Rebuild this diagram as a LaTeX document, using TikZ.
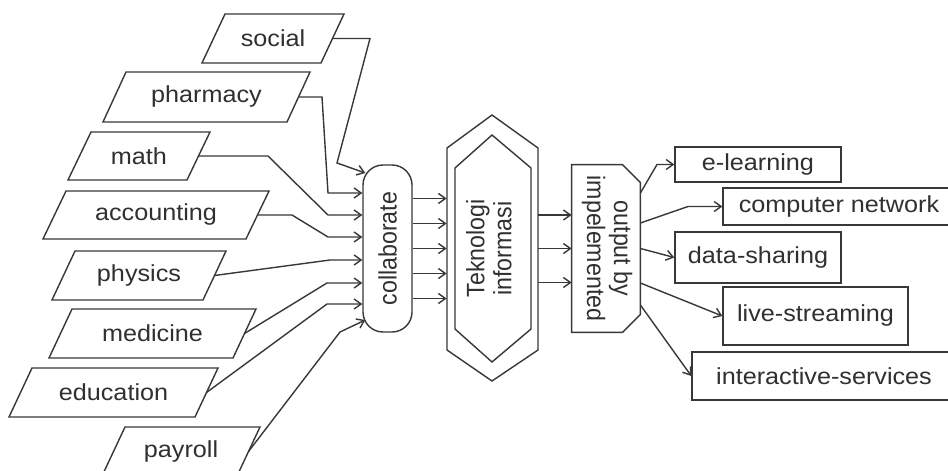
\documentclass[tikz,border=0pt]{standalone}
\usepackage{fontspec}
\setmainfont{Liberation Sans}
\usepackage{graphicx}
\usetikzlibrary{arrows.meta,calc}
\definecolor{ink}{HTML}{303030}
\definecolor{edge}{HTML}{383838}
% slightly flattened text
\newcommand\vsq[1]{\scalebox{1}[0.92]{#1}}
\newcommand\hsq[1]{\scalebox{0.92}[1]{#1}}
% slanted input box: name, bottom-left x, bottom-right x, top y, bottom y, label
\newcommand\slantbox[6]{%
  \draw[box] (#2,#5) -- (#3,#5) -- ({#3+23},#4) -- ({#2+23},#4) -- cycle;
  \node[lbl] (#1) at ({(#2+#3)/2+11.5},{(#4+#5)/2}) {\vsq{#6}};
  \coordinate (#1-e) at ({#3+11.5},{(#4+#5)/2});}
\begin{document}
\begin{tikzpicture}[x=0.5pt, y=-0.5pt,
  font=\fontsize{12.6}{13.5}\selectfont,
  box/.style={draw=edge, line width=0.7pt, line join=miter},
  lbl/.style={inner sep=0pt, text=ink},
  rbox/.style={draw=edge, line width=0.7pt, inner sep=0pt, text=ink},
  arr/.style={draw=edge, line width=0.7pt,
    -{Straight Barb[length=3.5pt,width=5pt]}}]
\clip (0,0) rectangle (948,471);
\fill[white] (0,0) rectangle (948,471);

% input fields
\slantbox{social}{202}{321}{14}{63}{social}
\slantbox{pharmacy}{103}{287}{72}{122}{pharmacy}
\slantbox{math}{68}{187}{132}{180}{math}
\slantbox{accounting}{43}{246}{191}{239}{accounting}
\slantbox{physics}{52}{203}{251}{300}{physics}
\slantbox{medicine}{49}{233}{309}{358}{medicine}
\slantbox{education}{9}{195}{368}{417}{education}
\slantbox{payroll}{102}{237}{427}{476}{payroll}

% collaborate
\node[rbox, rounded corners=10pt, minimum width=24.5pt, minimum height=83.5pt]
  (col) at (387.5,248.5) {\rotatebox{90}{\hsq{collaborate}}};

% Teknologi informasi (double hexagon)
\node[lbl, minimum width=45.5pt, minimum height=133pt]
  (ti) at (492.5,248.5) {\rotatebox{90}{\hsq{\begin{tabular}{@{}c@{}}Teknologi\\informasi\end{tabular}}}};
\draw[box] (492,115) -- (538,148) -- (538,350) -- (492,381) -- (447,350) -- (447,148) -- cycle;
\draw[box] (492,135) -- (531,168) -- (531,329) -- (492,362) -- (455,329) -- (455,168) -- cycle;

% output by implemented
\node[lbl, minimum width=34pt, minimum height=83.5pt]
  (out) at (606,248.5) {\rotatebox{-90}{\hsq{\begin{tabular}{@{}c@{}}output by\\impelemented\end{tabular}}}};
\draw[box] (out.north west) -- ([xshift=-9pt]out.north east) -- ([yshift=-9pt]out.north east)
  -- ([yshift=9pt]out.south east) -- ([xshift=-9pt]out.south east) -- (out.south west) -- cycle;

% results
\node[rbox, minimum width=83pt, minimum height=17.5pt] (el) at (758,164.5) {\vsq{e-learning}};
\node[rbox, minimum width=116pt, minimum height=18.5pt] (cn) at (839,206.5) {\vsq{computer network}};
\node[rbox, minimum width=83pt, minimum height=25.5pt] (ds) at (758,257.5) {\vsq{data-sharing}};
\node[rbox, minimum width=92.5pt, minimum height=29pt] (ls) at (815.5,316) {\vsq{live-streaming}};
\node[rbox, minimum width=132pt, minimum height=24pt] (is) at (824,376) {\vsq{interactive-services}};

% fields into collaborate
\draw[arr] (social-e) -- (370,38.5) -- (337,163) -- ($(col.west)+(3,-75.5)$);
\draw[arr] (pharmacy-e) -- (322,97) -- (328,193) -- ($(col.west)+(0,-55.5)$);
\draw[arr] (math-e) -- (268,156) -- (328,215) -- ($(col.west)+(0,-33.5)$);
\draw[arr] (accounting-e) -- (292,215) -- (328,237) -- ($(col.west)+(0,-11.5)$);
\draw[arr] (physics-e) -- (330,260) -- ($(col.west)+(0,11.5)$);
\draw[arr] (medicine-e) -- (327,283) -- ($(col.west)+(0,34.5)$);
\draw[arr] (education-e) -- (327,304) -- ($(col.west)+(0,55.5)$);
\draw[arr] (payroll-e) -- (340,332) -- ($(col.west)+(3,71.5)$);

% collaborate into Teknologi informasi
\foreach \d in {-50,-25,0,25,50}
  \draw[arr] ($(col.east)+(0,\d)$) -- ($(ti.west)+(0,\d)$);

% Teknologi informasi into output
\foreach \d in {-33.5,0,34}
  \draw[arr] ($(ti.east)+(0,\d)$) -- ($(out.west)+(0,\d)$);

% output to results
\draw[arr] ($(out.east)+(0,-55.5)$) -- (657,164.5) -- (el.west);
\draw[arr] ($(out.east)+(0,-25.5)$) -- (688,206.5) -- (cn.west);
\draw[arr] ($(out.east)+(0,0)$) -- (ds.west);
\draw[arr] ($(out.east)+(0,34.5)$) -- (ls.west);
\draw[arr] ($(out.east)+(0,56.5)$) -- (is.west);
\end{tikzpicture}
\end{document}
